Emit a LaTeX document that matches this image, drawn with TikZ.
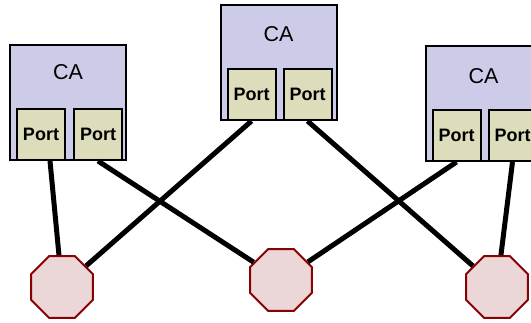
\documentclass[tikz,border=0pt]{standalone}
\usepackage{fontspec}
\setmainfont{Liberation Sans}
\usetikzlibrary{shapes.geometric, positioning}
\definecolor{cafill}{HTML}{CCCCE8}
\definecolor{portfill}{HTML}{DDDDBB}
\definecolor{switchfill}{HTML}{EBD7D7}
\definecolor{switchline}{HTML}{8B0000}
\tikzstyle{cabox} = [rectangle, minimum width=116pt, minimum height=115pt, inner sep=0pt, draw=black, line width=2pt, fill=cafill]
\tikzstyle{catext} = [inner sep=0pt, font=\fontsize{21.5}{24}\selectfont]
\tikzstyle{port} = [rectangle, minimum width=48pt, minimum height=51pt, inner sep=0pt, draw=black, line width=2pt, fill=portfill, font=\fontsize{18}{20}\selectfont\bfseries]
\tikzstyle{switch} = [regular polygon, regular polygon sides=8, minimum size=67pt, inner sep=0pt, draw=switchline, line width=2pt, fill=switchfill]
\tikzstyle{link} = [line width=5pt, black]

\begin{document}
\begin{tikzpicture}[x=1pt, y=-1pt]
        \useasboundingbox (0,0) rectangle (531,322);
        \clip (0,0) rectangle (531,322);

        % Channel adapters
        \node (ca1) [cabox] at (68,102.5) {};
        \node (ca2) [cabox] at (278.5,62.5) {};
        \node (ca3) [cabox] at (483.5,103.5) {};
        \node (ca1label) [catext] at ([yshift=-28pt]ca1.north) {CA};
        \node (ca2label) [catext] at ([yshift=-30pt]ca2.north) {CA};
        \node (ca3label) [catext] at ([yshift=-31pt]ca3.north) {CA};

        % Ports
        \node (p11) [port, anchor=south west] at ([xshift=7pt]ca1.south west) {Port};
        \node (p12) [port, right=7pt of p11] {Port};
        \node (p21) [port, anchor=south west] at ([xshift=7pt]ca2.south west) {Port};
        \node (p22) [port, right=6pt of p21] {Port};
        \node (p31) [port, anchor=south west] at ([xshift=7pt]ca3.south west) {Port};
        \node (p32) [port, right=6pt of p31] {Port};

        % Switches
        \node (sw1) [switch] at (62,287) {};
        \node (sw2) [switch] at (281,280) {};
        \node (sw3) [switch] at (497,287) {};

        % Links
        \draw [link] ([xshift=9pt]p11.south) -- (sw1);
        \draw [link] (p12.south) -- (sw2);
        \draw [link] (p21.south) -- (sw1);
        \draw [link] (p22.south) -- (sw3);
        \draw [link] (p31.south) -- (sw2);
        \draw [link] (p32.south) -- (sw3);

\end{tikzpicture}
\end{document}
